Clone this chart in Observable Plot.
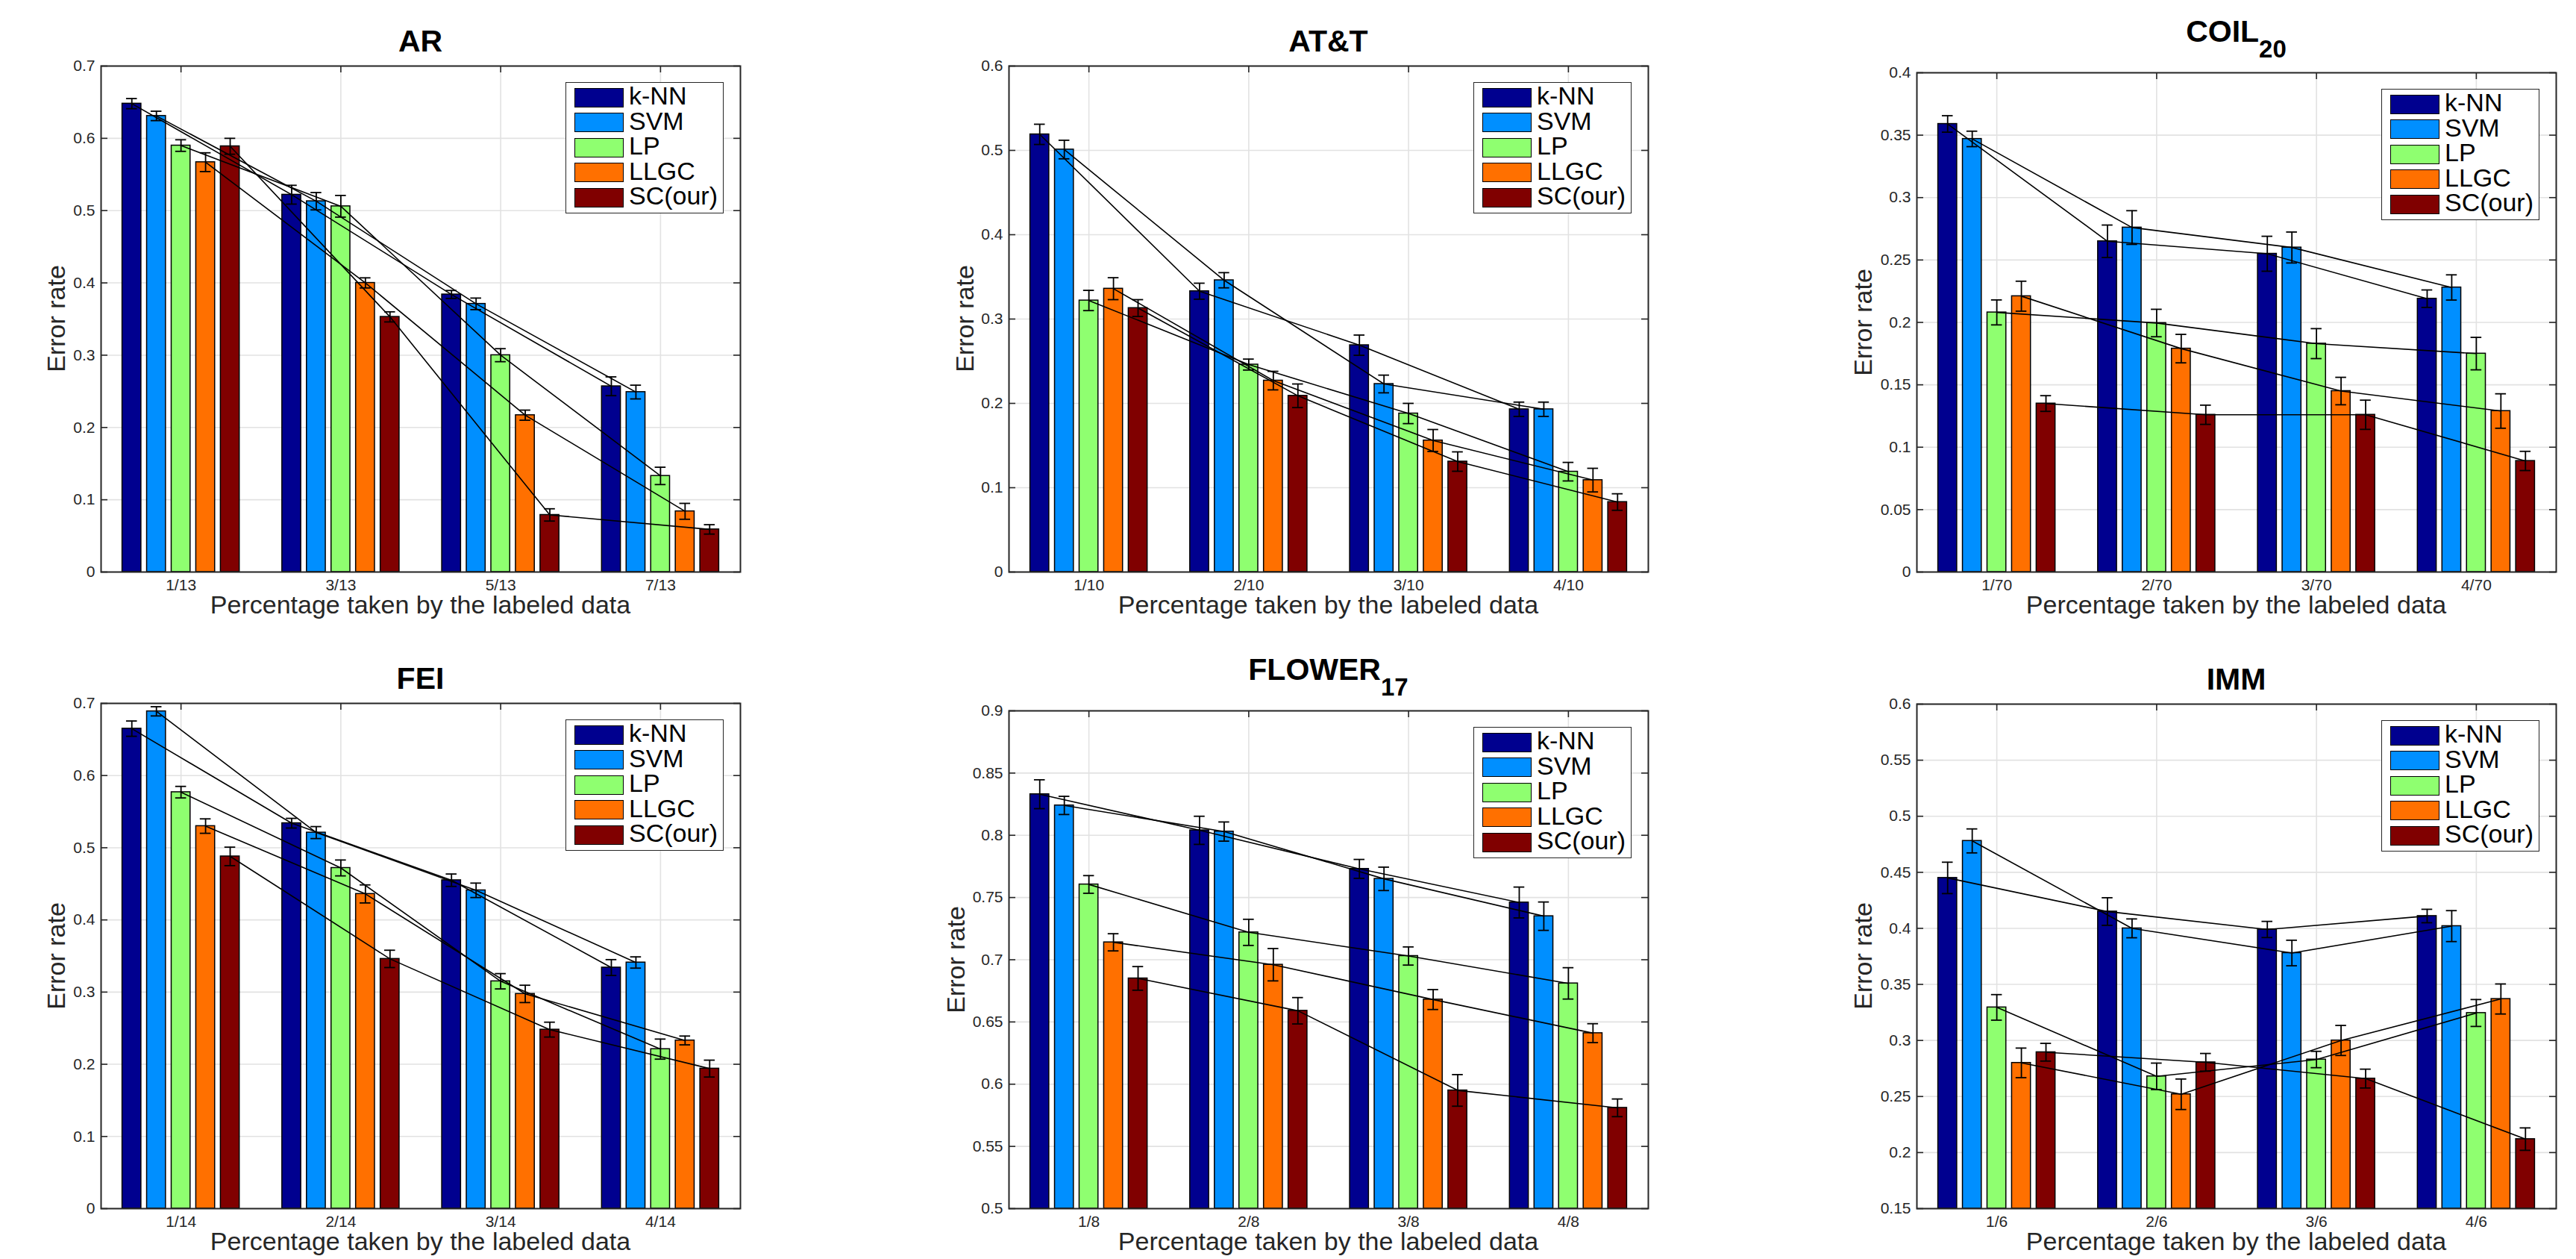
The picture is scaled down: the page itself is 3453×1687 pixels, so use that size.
<!DOCTYPE html>
<html>
<head>
<meta charset="utf-8">
<script src="https://cdn.jsdelivr.net/npm/d3@7"></script>
<script src="https://cdn.jsdelivr.net/npm/@observablehq/plot@0.6"></script>
<style>
  html, body { margin: 0; padding: 0; background: #fff; overflow: hidden; }
  #fig { position: relative; width: 3453px; height: 1687px; background: #fff;
         font-family: "Liberation Sans", Arial, Helvetica, sans-serif; color: #262626; overflow: hidden; }
  .abs { position: absolute; white-space: nowrap; line-height: 1; }
  .plotwrap { position: absolute; }
  .title { font-weight: bold; font-size: 41px; color: #000; transform: translateX(-50%); }
  .sub { font-size: 33px; position: relative; top: 21px; }
  .xlabel { font-size: 34px; color: #262626; transform: translateX(-50%); }
  .ylabel { font-size: 34px; color: #262626; transform-origin: 0 0; transform: rotate(-90deg) translateX(-50%); }
  .legend { position: absolute; box-sizing: border-box; background: #fff; border: 1.6px solid #262626; }
  .sw { position: absolute; box-sizing: border-box; border: 1.6px solid #000; }
  .lt { position: absolute; font-size: 34px; color: #000; line-height: 1; white-space: nowrap; }
</style>
</head>
<body>
<div id="fig"></div>
<script>
// ---------- shared ----------
const methods = ["k-NN", "SVM", "LP", "LLGC", "SC(our)"];
const methodColors = ["#00008F", "#008FFF", "#8FFF70", "#FF7000", "#800000"];

// ---------- AR ----------
const arTicks = ["1/13", "3/13", "5/13", "7/13"];
const arYTicks = [0, 0.1, 0.2, 0.3, 0.4, 0.5, 0.6, 0.7];
const arValues = [
  [0.648, 0.522, 0.384, 0.257],
  [0.631, 0.513, 0.371, 0.249],
  [0.590, 0.506, 0.300, 0.133],
  [0.567, 0.400, 0.217, 0.084],
  [0.589, 0.353, 0.079, 0.059]
];
const arErrors = [
  [0.007, 0.013, 0.0055, 0.013],
  [0.0065, 0.012, 0.008, 0.0095],
  [0.008, 0.015, 0.009, 0.012],
  [0.013, 0.007, 0.007, 0.011],
  [0.011, 0.007, 0.0085, 0.0065]
];

// ---------- AT&T ----------
const attTicks = ["1/10", "2/10", "3/10", "4/10"];
const attYTicks = [0, 0.1, 0.2, 0.3, 0.4, 0.5, 0.6];
const attValues = [
  [0.519, 0.333, 0.269, 0.193],
  [0.501, 0.346, 0.223, 0.193],
  [0.322, 0.246, 0.188, 0.119],
  [0.336, 0.227, 0.156, 0.109],
  [0.313, 0.209, 0.131, 0.083]
];
const attErrors = [
  [0.012, 0.0095, 0.012, 0.0085],
  [0.011, 0.009, 0.0105, 0.0085],
  [0.012, 0.0065, 0.012, 0.011],
  [0.013, 0.011, 0.013, 0.014],
  [0.010, 0.014, 0.0115, 0.0098]
];

// ---------- COIL20 ----------
const coilTicks = ["1/70", "2/70", "3/70", "4/70"];
const coilYTicks = [0, 0.05, 0.1, 0.15, 0.2, 0.25, 0.3, 0.35, 0.4];
const coilValues = [
  [0.359, 0.265, 0.255, 0.219],
  [0.347, 0.276, 0.260, 0.228],
  [0.208, 0.1995, 0.183, 0.175],
  [0.221, 0.179, 0.145, 0.129],
  [0.135, 0.126, 0.126, 0.089]
];
const coilErrors = [
  [0.0066, 0.013, 0.014, 0.007],
  [0.0062, 0.0135, 0.0124, 0.0101],
  [0.010, 0.011, 0.012, 0.013],
  [0.012, 0.0114, 0.011, 0.0138],
  [0.0063, 0.0077, 0.0117, 0.0077]
];

// ---------- FEI ----------
const feiTicks = ["1/14", "2/14", "3/14", "4/14"];
const feiYTicks = [0, 0.1, 0.2, 0.3, 0.4, 0.5, 0.6, 0.7];
const feiValues = [
  [0.665, 0.534, 0.455, 0.334],
  [0.689, 0.521, 0.441, 0.341],
  [0.577, 0.472, 0.315, 0.221],
  [0.530, 0.436, 0.2975, 0.233],
  [0.488, 0.346, 0.248, 0.194]
];
const feiErrors = [
  [0.0106, 0.0067, 0.0086, 0.011],
  [0.0064, 0.0083, 0.010, 0.0078],
  [0.008, 0.011, 0.0106, 0.0139],
  [0.010, 0.0125, 0.012, 0.0061],
  [0.0128, 0.012, 0.0103, 0.0117]
];

// ---------- FLOWER17 ----------
const flowerTicks = ["1/8", "2/8", "3/8", "4/8"];
const flowerYTicks = [0.5, 0.55, 0.6, 0.65, 0.7, 0.75, 0.8, 0.85, 0.9];
const flowerValues = [
  [0.833, 0.804, 0.773, 0.746],
  [0.824, 0.803, 0.765, 0.735],
  [0.7605, 0.722, 0.703, 0.681],
  [0.714, 0.696, 0.668, 0.641],
  [0.685, 0.659, 0.595, 0.581]
];
const flowerErrors = [
  [0.0116, 0.0113, 0.0076, 0.0124],
  [0.0073, 0.0077, 0.0094, 0.0114],
  [0.0071, 0.0105, 0.0073, 0.0126],
  [0.0069, 0.013, 0.008, 0.0076],
  [0.0095, 0.0106, 0.0127, 0.0071]
];

// ---------- IMM ----------
const immTicks = ["1/6", "2/6", "3/6", "4/6"];
const immYTicks = [0.15, 0.2, 0.25, 0.3, 0.35, 0.4, 0.45, 0.5, 0.55, 0.6];
const immValues = [
  [0.445, 0.415, 0.399, 0.411],
  [0.478, 0.400, 0.378, 0.402],
  [0.3295, 0.268, 0.283, 0.3245],
  [0.280, 0.252, 0.300, 0.337],
  [0.2895, 0.2805, 0.266, 0.212]
];
const immErrors = [
  [0.014, 0.0123, 0.0072, 0.006],
  [0.0107, 0.0084, 0.0114, 0.0138],
  [0.0114, 0.0118, 0.0073, 0.012],
  [0.0132, 0.0136, 0.0134, 0.0134],
  [0.0079, 0.0079, 0.0084, 0.010]
];

const xLabel = "Percentage taken by the labeled data";
const yLabel = "Error rate";

// panel layout (frame box in page pixels)
const panels = [
  {title: "AR", sub: "", ticks: arTicks, yTicks: arYTicks, values: arValues, errors: arErrors, L: 135, T: 88, B: 766, yOff: 48},
  {title: "AT&T", sub: "", ticks: attTicks, yTicks: attYTicks, values: attValues, errors: attErrors, L: 1352, T: 88, B: 766, yOff: 47},
  {title: "COIL", sub: "20", ticks: coilTicks, yTicks: coilYTicks, values: coilValues, errors: coilErrors, L: 2569, T: 97, B: 766, yOff: 60},
  {title: "FEI", sub: "", ticks: feiTicks, yTicks: feiYTicks, values: feiValues, errors: feiErrors, L: 135, T: 942, B: 1619, yOff: 48},
  {title: "FLOWER", sub: "17", ticks: flowerTicks, yTicks: flowerYTicks, values: flowerValues, errors: flowerErrors, L: 1352, T: 952, B: 1619, yOff: 59},
  {title: "IMM", sub: "", ticks: immTicks, yTicks: immYTicks, values: immValues, errors: immErrors, L: 2569, T: 943, B: 1619, yOff: 60}
];

const FW = 857;          // frame width
const PITCH = 0.1538;    // bar pitch in category units
const HALF = 0.059;      // half bar width
const CAP = 0.034;       // half error-cap width
const TICK = 9;          // inward tick length (px)
const FONT = '"Liberation Sans", Arial, Helvetica, sans-serif';
const fig = document.getElementById("fig");

function fmt(d) { return String(+d.toFixed(2)); }

function el(cls, html, style) {
  const d = document.createElement("div");
  d.className = cls;
  d.innerHTML = html;
  Object.assign(d.style, style);
  fig.appendChild(d);
  return d;
}

for (const p of panels) {
  const H = p.B - p.T;
  const mL = 70, mR = 12, mT = 12, mB = 45;
  const rows = [];
  p.values.forEach((vals, mi) => vals.forEach((v, gi) => {
    rows.push({method: methods[mi], gi, v, e: p.errors[mi][gi], xc: gi + (mi - 2) * PITCH});
  }));
  const y0 = p.yTicks[0], y1 = p.yTicks[p.yTicks.length - 1];
  const cats = [0, 1, 2, 3];

  const chart = Plot.plot({
    width: FW + mL + mR,
    height: H + mT + mB,
    marginLeft: mL, marginRight: mR, marginTop: mT, marginBottom: mB,
    style: {fontFamily: FONT, fontSize: "21px", color: "#262626", background: "transparent", overflow: "visible"},
    x: {type: "linear", domain: [-0.5, 3.5], ticks: cats, tickFormat: i => p.ticks[i], tickSize: 0, tickPadding: 10, label: null},
    y: {domain: [y0, y1], ticks: p.yTicks, tickFormat: fmt, tickSize: 0, tickPadding: 8, label: null},
    color: {type: "ordinal", domain: methods, range: methodColors},
    marks: [
      // grid
      Plot.ruleY(p.yTicks, {stroke: "#E2E2E2", strokeWidth: 1.6}),
      Plot.ruleX(cats, {stroke: "#E2E2E2", strokeWidth: 1.6}),
      // inward ticks
      Plot.ruleY(p.yTicks, {insetRight: FW - TICK, stroke: "#262626", strokeWidth: 1.6}),
      Plot.ruleY(p.yTicks, {insetLeft: FW - TICK, stroke: "#262626", strokeWidth: 1.6}),
      Plot.ruleX(cats, {insetBottom: H - TICK, stroke: "#262626", strokeWidth: 1.6}),
      Plot.ruleX(cats, {insetTop: H - TICK, stroke: "#262626", strokeWidth: 1.6}),
      // bars
      Plot.rect(rows, {
        x1: d => d.xc - HALF, x2: d => d.xc + HALF,
        y1: () => y0, y2: "v",
        fill: "method", stroke: "#000", strokeWidth: 1.5
      }),
      // connecting lines
      Plot.line(rows, {x: "xc", y: "v", z: "method", stroke: "#000", strokeWidth: 1.6}),
      // error bars
      Plot.ruleX(rows, {x: "xc", y1: d => d.v - d.e, y2: d => d.v + d.e, stroke: "#000", strokeWidth: 1.8}),
      Plot.ruleY(rows, {x1: d => d.xc - CAP, x2: d => d.xc + CAP, y: d => d.v - d.e, stroke: "#000", strokeWidth: 1.8}),
      Plot.ruleY(rows, {x1: d => d.xc - CAP, x2: d => d.xc + CAP, y: d => d.v + d.e, stroke: "#000", strokeWidth: 1.8}),
      Plot.frame({stroke: "#262626", strokeWidth: 2})
    ]
  });
  const wrap = document.createElement("div");
  wrap.className = "plotwrap";
  wrap.style.left = (p.L - mL) + "px";
  wrap.style.top = (p.T - mT) + "px";
  wrap.appendChild(chart);
  fig.appendChild(wrap);

  const cx = p.L + FW / 2;
  // title
  const tBase = p.sub ? p.T - 40 : p.T - 18;
  el("abs title", p.title + (p.sub ? '<span class="sub">' + p.sub + '</span>' : ""),
     {left: cx + "px", top: (tBase - 0.8465 * 41) + "px"});
  // x label
  el("abs xlabel", xLabel, {left: cx + "px", top: (p.B + 56 - 0.8465 * 34) + "px"});
  // y label
  el("abs ylabel", yLabel, {left: (p.L - p.yOff - 0.8465 * 34) + "px", top: ((p.T + p.B) / 2) + "px"});

  // legend
  const lw = 212, lh = 176;
  const lg = document.createElement("div");
  lg.className = "legend";
  Object.assign(lg.style, {left: (p.L + FW - 22 - lw) + "px", top: (p.T + 22) + "px", width: lw + "px", height: lh + "px"});
  methods.forEach((m, i) => {
    const sw = document.createElement("div");
    sw.className = "sw";
    Object.assign(sw.style, {left: "11px", top: (6.5 + i * 33.5) + "px", width: "66px", height: "26px", background: methodColors[i]});
    lg.appendChild(sw);
    const t = document.createElement("div");
    t.className = "lt";
    t.textContent = m;
    const base = 6.5 + i * 33.5 + 13 + 9.7;
    Object.assign(t.style, {left: "84px", top: (base - 0.8465 * 34) + "px"});
    lg.appendChild(t);
  });
  fig.appendChild(lg);
}
</script>
</body>
</html>
